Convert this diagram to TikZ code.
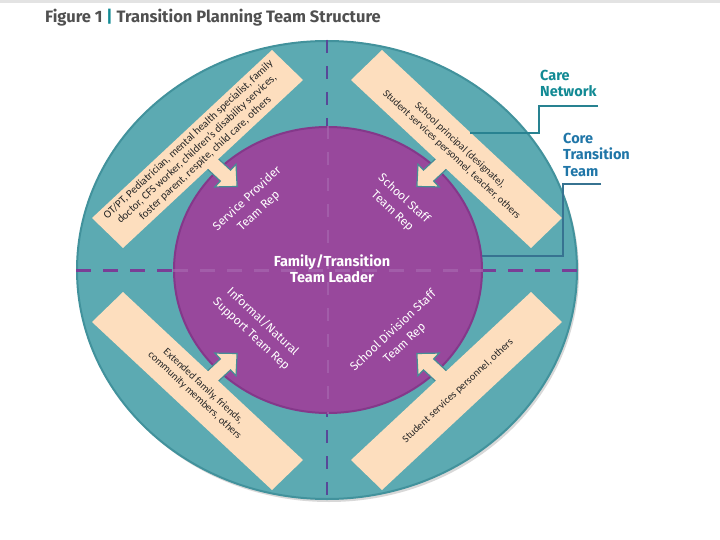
\documentclass[tikz,border=0pt]{standalone}
\usepackage{fontspec}
\setmainfont{Fira Sans}
\newfontfamily\bandfont{Carlito}
\usetikzlibrary{shapes.geometric,shadows}
\definecolor{tealc}{RGB}{92,170,178}
\definecolor{tealrim}{RGB}{66,146,156}
\definecolor{purplec}{RGB}{152,72,156}
\definecolor{purplerim}{RGB}{132,56,138}
\definecolor{beige}{RGB}{253,222,190}
\definecolor{dashpurple}{RGB}{122,62,150}
\definecolor{dashblue}{RGB}{88,72,152}
\definecolor{dashfaint}{RGB}{170,108,178}
\definecolor{careteal}{RGB}{18,138,148}
\definecolor{coreblue}{RGB}{32,118,168}
\definecolor{titlegray}{RGB}{80,80,80}
\definecolor{careline}{RGB}{40,130,145}
\definecolor{coreline}{RGB}{55,115,145}
\definecolor{arrowrim}{RGB}{70,140,150}
\tikzset{
  bandbox/.style={fill=beige},
  blockarrow/.style={fill=beige, draw=arrowrim, line width=1.2pt, line join=miter},
  bandtext/.style={font=\bandfont\fontsize{10.5}{12.5}\selectfont, align=center, text=black!85, inner sep=0pt},
  whitelabel/.style={font=\fontsize{12}{17}\selectfont, align=center, text=white, inner sep=0pt},
  sidelabel/.style={font=\bfseries\fontsize{14.5}{16.5}\selectfont, align=left, inner sep=0pt, anchor=north west},
}
\newcommand{\tparrow}[3]{%
  \begin{scope}[shift={#1}, rotate=#2]
    \filldraw[blockarrow] (-6,-7.5) -- (17,-7.5) -- (17,-15.5) -- (33,0) -- (17,15.5) -- (17,7.5) -- (-6,7.5) -- cycle;
    \coordinate (#3) at (33,0);
  \end{scope}}
\begin{document}
\begin{tikzpicture}[x=1pt, y=-1pt]
\useasboundingbox (0,0) rectangle (720,540);
\fill[white] (0,0) rectangle (720,540);
\fill[gray!22] (0,0) rectangle (720,3);

\node[anchor=base west, font=\bfseries\fontsize{16.5}{18}\selectfont, text=titlegray, inner sep=0pt] (title) at (45,23)
  {Figure 1 {\color{careteal}|} Transition Planning Team Structure};

% outer care network ellipse
\node[ellipse, fill=tealc, draw=tealrim, line width=2pt, minimum width=500pt, minimum height=458pt, inner sep=0pt,
      drop shadow={opacity=0.3, shadow xshift=2pt, shadow yshift=-3pt}] (outer) at (327,270) {};

% dashed axes
\draw[dashblue, line width=2pt, dash pattern=on 13pt off 13pt] (outer.north) -- (outer.south);
\draw[dashpurple, line width=3pt, dash pattern=on 15pt off 12pt] (outer.west) -- (outer.east);

% inner core ellipse
\node[ellipse, fill=purplec, draw=purplerim, line width=2pt, minimum width=308pt, minimum height=286pt, inner sep=0pt] (inner) at (328,270) {};
\draw[dashfaint, line width=2pt, dash pattern=on 13pt off 13pt, opacity=0.6] (inner.north) -- (inner.south);
\draw[dashfaint, line width=3pt, dash pattern=on 15pt off 12pt, opacity=0.6] (inner.west) -- (inner.east);

% arrows
\tparrow{(213,164)}{-43}{atl}
\tparrow{(441,164)}{-137}{atr}
\tparrow{(213,376)}{43}{abl}
\tparrow{(441,376)}{137}{abr}

% bands
\fill[bandbox] (123,248) -- (303,80) -- (272,50) -- (92,218) -- cycle;
\fill[bandbox] (351,80) -- (531,248) -- (562,218) -- (382,50) -- cycle;
\fill[bandbox] (123,292) -- (303,460) -- (272,490) -- (92,322) -- cycle;
\fill[bandbox] (351,460) -- (531,292) -- (562,322) -- (382,490) -- cycle;

% band texts
\node[bandtext, rotate=43, font=\bandfont\fontsize{11}{12.5}\selectfont] (tltext) at (197,149)
  {OT/PT, Pediatrician, mental health specialist, family\\doctor, CFS worker, children’s disability services,\\foster parent, respite, child care, others};
\node[bandtext, rotate=-43] (trtext) at (456,150)
  {School principal (designate),\\Student services personnel, teacher, others};
\node[bandtext, rotate=-43] (bltext) at (199,391)
  {Extended family, friends,\\community members, others};
\node[bandtext, rotate=43] (brtext) at (458,391)
  {Student services personnel, others};

% purple labels
\node[whitelabel, rotate=43] (sp) at (253,205) {Service Provider\\Team Rep};
\node[whitelabel, rotate=-43] (ss) at (398,205) {School Staff\\Team Rep};
\node[whitelabel, rotate=-43] (inf) at (257,328) {Informal/Natural\\Support Team Rep};
\node[whitelabel, rotate=43] (sd) at (399,337) {School Division Staff\\Team Rep};
\node[font=\bfseries\fontsize{14.5}{16}\selectfont, align=center, text=white, inner sep=0pt] (leader) at (332,269) {Family/Transition\\Team Leader};

% side labels
\node[sidelabel, text=careteal] (care) at (540,70) {Care\\Network};
\node[sidelabel, text=coreblue] (core) at (563,133) {Core\\Transition\\Team};

\coordinate (c0) at (598,106);
\coordinate (c1) at (539,106);
\coordinate (c2) at (539,133);
\coordinate (c3) at (470,133);
\draw[careline, line width=1.2pt] (c0) -- (c1) -- (c2) -- (c3);

\coordinate (k0) at (601,184);
\coordinate (k1) at (563,184);
\coordinate (k2) at (563,256);
\coordinate (k3) at (482,256);
\draw[coreline, line width=1.2pt] (k0) -- (k1) -- (k2) -- (k3);
\end{tikzpicture}
\end{document}
